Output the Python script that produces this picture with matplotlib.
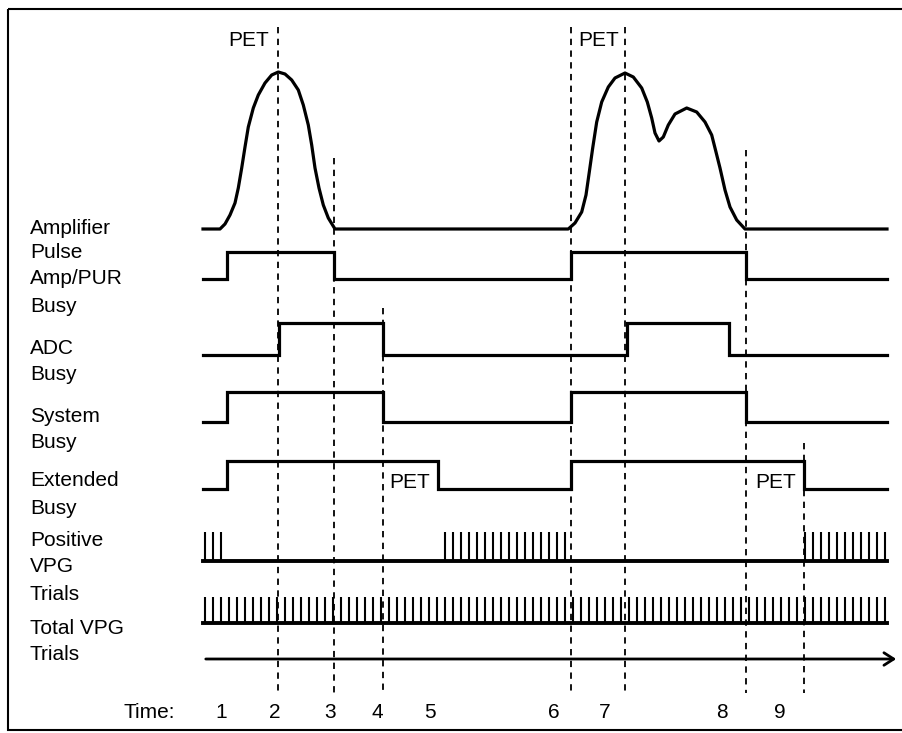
import numpy as np
import matplotlib
matplotlib.use("Agg")
import matplotlib.pyplot as plt
from matplotlib.patches import Rectangle

plt.rcParams['font.family'] = ['Liberation Sans', 'DejaVu Sans']

# time markers (horizontal position on the diagram's time axis)
time_labels = ['1', '2', '3', '4', '5', '6', '7', '8', '9']
time_marks = [227, 278, 334, 383, 438, 571, 625, 746, 804]
time_label_x = [221, 275, 330, 377, 430, 554, 605, 722, 780]

# dashed guide lines: time position and where the guide starts
guide_x = [278, 334, 383, 571, 625, 746, 804]
guide_top = [27, 158, 308, 27, 27, 150, 443]
guide_bottom = 693

# amplifier pulse
amp_x = [203, 220, 225, 230, 235, 238.3, 241.7, 245, 248.3, 253.3, 258.3, 265, 271.7, 278.3,
         285, 291.7, 298.3, 303.3, 308.3, 311.7, 315, 319, 323.3, 328.3, 335,
         568.3, 575, 581.7, 586, 589.3, 592.7, 596.7, 601.7, 608.3, 615, 625, 633.3, 641.7,
         647.3, 651.7, 655, 659, 663.3, 668.3, 675, 686.7, 696.7, 705, 711.7, 716, 720,
         725, 730, 736.7, 745, 887]
amp_y = [229, 229, 224, 215, 203, 188, 168, 147, 127, 108, 95, 83, 75, 72,
         74, 80, 90, 105, 125, 145, 168, 188, 205, 218, 229,
         229, 223, 212, 195, 172, 148, 122, 102, 87, 78, 73, 77, 88,
         102, 118, 133, 141, 137, 125, 114, 108, 112, 122, 135, 152, 168,
         190, 207, 220, 229, 229]

# busy signals: (rise, fall) intervals
amp_pur_busy = [(227, 334), (571, 746)]
adc_busy = [(279, 383), (627, 729)]
system_busy = [(227, 383), (571, 746)]
extended_busy = [(227, 438), (571, 804)]

# VPG clock: first trial, spacing, count; positive trials given by index ranges
vpg_first = 205
vpg_step = 8
vpg_count = 86
positive_ranges = [(0, 2), (30, 45), (75, 85)]

labels = [('Amplifier', 229), ('Pulse', 253), ('Amp/PUR', 279), ('Busy', 307),
          ('ADC', 348), ('Busy', 375), ('System', 416), ('Busy', 442),
          ('Extended', 481), ('Busy', 508), ('Positive', 541), ('VPG', 567),
          ('Trials', 595), ('Total VPG', 628), ('Trials', 655)]

x_start, x_end = 203, 887
lw_sig = 2.3
fs = 15


def step_trace(intervals, low, high):
    xs, ys = [x_start], [low]
    for r, f in intervals:
        xs += [r, r, f, f]
        ys += [low, high, high, low]
    xs.append(x_end)
    ys.append(low)
    return xs, ys


fig = plt.figure(figsize=(9.03, 7.33), dpi=100)
ax = fig.add_axes([0, 0, 1, 1])
ax.set_xlim(0, 903)
ax.set_ylim(733, 0)
ax.axis('off')

ax.add_patch(Rectangle((8, 9), 920, 721, fill=False, edgecolor='black', linewidth=1.5))

# guides
for gx, gt in zip(guide_x, guide_top):
    ax.plot([gx, gx], [gt, guide_bottom], color='black', lw=1.3, linestyle=(0, (3.5, 3)))

# amplifier
ax.plot(amp_x, amp_y, color='black', lw=lw_sig, solid_joinstyle='round')

# busy lines
for intervals, low, high in [(amp_pur_busy, 279, 252), (adc_busy, 355, 323),
                             (system_busy, 422, 392), (extended_busy, 489, 461)]:
    xs, ys = step_trace(intervals, low, high)
    ax.plot(xs, ys, color='black', lw=lw_sig, solid_joinstyle='miter')

# VPG trials
trial_x = vpg_first + vpg_step * np.arange(vpg_count)
pos_idx = np.concatenate([np.arange(a, b + 1) for a, b in positive_ranges])
ax.vlines(trial_x[pos_idx], 532, 561, color='black', lw=1.5)
ax.plot([x_start, x_end], [561, 561], color='black', lw=2.8)
ax.vlines(trial_x, 597, 623, color='black', lw=1.5)
ax.plot([x_start, x_end], [623, 623], color='black', lw=2.8)

# time axis
ax.annotate('', xy=(899, 659), xytext=(x_start, 659),
            arrowprops=dict(arrowstyle='->,head_length=0.7,head_width=0.45',
                            color='black', lw=2.0))

for text, y in labels:
    ax.text(30, y, text, ha='left', va='center', fontsize=fs)

ax.text(175, 712, 'Time:', ha='right', va='center', fontsize=fs)
for lab, lx in zip(time_labels, time_label_x):
    ax.text(lx, 712, lab, ha='center', va='center', fontsize=fs)

# PET annotations
for px, py in [(249, 41), (599, 41), (410, 483), (776, 483)]:
    ax.text(px, py, 'PET', ha='center', va='center', fontsize=fs)

fig.savefig('out.png', dpi=100)
